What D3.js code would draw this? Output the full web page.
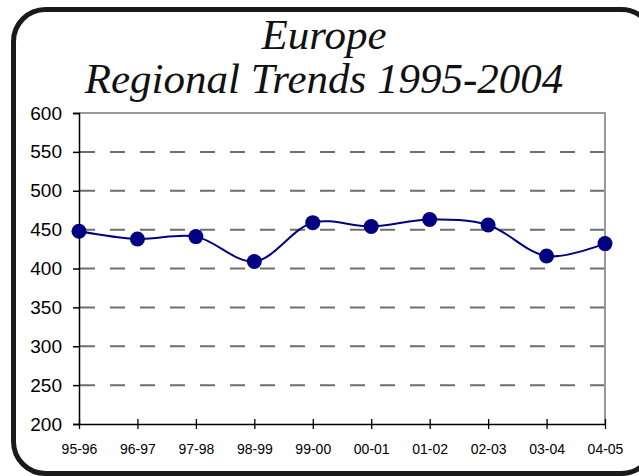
<!DOCTYPE html>
<html>
<head>
<meta charset="utf-8">
<script src="https://cdn.jsdelivr.net/npm/d3@7"></script>
<style>
  html, body { margin: 0; padding: 0; background: #fff; }
  svg { display: block; }
  .axis path, .axis line { stroke: #000; }
  .axis text { fill: #000; font-family: "Liberation Sans", Arial, sans-serif; }
</style>
</head>
<body>
<div id="chart"></div>
<script>
"use strict";

var seasons = ["95-96", "96-97", "97-98", "98-99", "99-00", "00-01", "01-02", "02-03", "03-04", "04-05"];
var trendValues = [448, 438, 441, 409, 459, 454, 463, 456, 416, 432];
var yTicks = [200, 250, 300, 350, 400, 450, 500, 550, 600];
var titleLines = ["Europe", "Regional Trends 1995-2004"];

var width = 639, height = 476;
var margin = { top: 113, right: 34, bottom: 52, left: 79 };
var plotW = width - margin.left - margin.right;
var plotH = height - margin.top - margin.bottom;

var svg = d3.select("#chart")
    .append("svg")
    .attr("width", width)
    .attr("height", height);

// rounded frame round the whole chart
svg.append("rect")
    .attr("x", 13.5)
    .attr("y", 9.5)
    .attr("width", 640)
    .attr("height", 464)
    .attr("rx", 32)
    .attr("fill", "none")
    .attr("stroke", "#1a1a1a")
    .attr("stroke-width", 5);

svg.selectAll("text.title")
    .data(titleLines)
    .enter()
    .append("text")
    .attr("class", "title")
    .attr("x", 324)
    .attr("y", function(d, i) { return 49 + i * 44; })
    .attr("text-anchor", "middle")
    .style("font-family", "'Liberation Serif', 'Times New Roman', serif")
    .style("font-style", "italic")
    .style("font-size", "43px")
    .style("fill", "#111")
    .text(function(d) { return d; });

var x = d3.scalePoint()
    .domain(seasons)
    .range([0, plotW])
    .padding(0);

var y = d3.scaleLinear()
    .domain([200, 600])
    .range([plotH, 0]);

var g = svg.append("g")
    .attr("transform", "translate(" + margin.left + "," + margin.top + ")");

// dashed gridlines
g.selectAll("line.grid")
    .data(yTicks.filter(function(d) { return d > 200 && d < 600; }))
    .enter()
    .append("line")
    .attr("class", "grid")
    .attr("x1", 1)
    .attr("x2", plotW)
    .attr("y1", function(d) { return y(d); })
    .attr("y2", function(d) { return y(d); })
    .attr("stroke", "#6e6e6e")
    .attr("stroke-width", 2)
    .attr("stroke-dasharray", "15,15");

// top and right border of the plot area
g.append("path")
    .attr("d", "M0," + y(600) + "H" + plotW + "V" + y(200))
    .attr("fill", "none")
    .attr("stroke", "#999")
    .attr("stroke-width", 2);

var yAxis = d3.axisLeft(y)
    .tickValues(yTicks)
    .tickSize(6)
    .tickPadding(11);

g.append("g")
    .attr("class", "y axis")
    .call(yAxis)
    .call(function(s) {
        s.select(".domain").attr("stroke-width", 1.5);
        s.selectAll(".tick line").attr("stroke-width", 1.5);
        s.selectAll("text").style("font-size", "19px");
    });

var xAxis = d3.axisBottom(x)
    .tickSize(5)
    .tickSizeOuter(0);

g.append("g")
    .attr("class", "x axis")
    .attr("transform", "translate(0," + plotH + ")")
    .call(xAxis)
    .call(function(s) {
        s.select(".domain").attr("stroke-width", 1.5);
        s.selectAll(".tick line").attr("y1", -5).attr("y2", 5).attr("stroke-width", 1.3);
        s.selectAll("text")
            .attr("y", 30)
            .attr("dy", 0)
            .style("font-size", "14px");
    });

var line = d3.line()
    .x(function(d, i) { return x(seasons[i]); })
    .y(function(d) { return y(d); })
    .curve(d3.curveCatmullRom.alpha(0.5));

g.append("path")
    .datum(trendValues)
    .attr("d", line)
    .attr("fill", "none")
    .attr("stroke", "#000080")
    .attr("stroke-width", 2);

g.selectAll("circle")
    .data(trendValues)
    .enter()
    .append("circle")
    .attr("r", 7.5)
    .attr("cx", function(d, i) { return x(seasons[i]); })
    .attr("cy", function(d) { return y(d); })
    .style("fill", "#000080");
</script>
</body>
</html>
